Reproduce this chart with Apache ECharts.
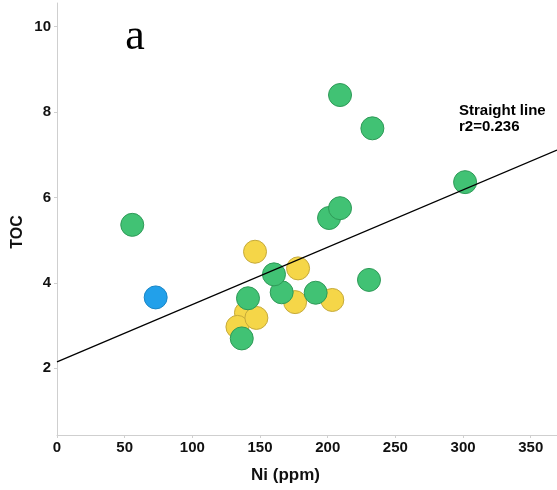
<!DOCTYPE html>
<html>
<head>
<meta charset="utf-8">
<script src="https://cdn.jsdelivr.net/npm/echarts@6/dist/echarts.min.js"></script>
<style>
html,body{margin:0;padding:0;background:#fff;}
#chart{width:557px;height:490px;}
</style>
</head>
<body>
<div id="chart"></div>
<script>
// Data
var niYellow = [139.6, 133.3, 146.3, 147.3, 175.9, 178.1, 203.4];
var tocYellow = [3.30, 2.97, 4.73, 3.18, 3.55, 4.34, 3.60];

var niGreen = [55.6, 136.5, 141.1, 166.0, 160.3, 191.1, 201.0, 209.1, 209.1, 230.5, 233.0, 301.5];
var tocGreen = [5.36, 2.70, 3.64, 3.78, 4.20, 3.77, 5.52, 5.75, 8.40, 4.07, 7.62, 6.36];

var niBlue = [72.9];
var tocBlue = [3.66];

// Straight-line fit (r2 = 0.236), end points
var fitNi = [0, 369.4];
var fitToc = [2.15, 7.11];

var xTicks = [0, 50, 100, 150, 200, 250, 300, 350];
var yTicks = [2, 4, 6, 8, 10];

function pairs(xs, ys) { return xs.map(function (x, i) { return [x, ys[i]]; }); }

var chart = echarts.init(document.getElementById('chart'), null, {renderer: 'canvas'});
var labelFont = {fontFamily: 'Liberation Sans', fontWeight: 'bold', fontSize: 15, color: '#111'};
var axisGray = '#cfcfcf';

chart.setOption({
  animation: false,
  backgroundColor: '#fff',
  grid: {left: 57, right: 0, top: 3, bottom: 55, outerBoundsMode: 'none', containLabel: false},
  xAxis: {
    type: 'value', min: 0, max: 369.4,
    axisLine: {show: true, lineStyle: {color: axisGray, width: 1}},
    axisTick: {show: true, length: 3, customValues: xTicks, lineStyle: {color: axisGray}},
    axisLabel: Object.assign({customValues: xTicks, margin: 5}, labelFont),
    splitLine: {show: false}
  },
  yAxis: {
    type: 'value', min: 0.438, max: 10.555,
    axisLine: {show: true, lineStyle: {color: axisGray, width: 1}},
    axisTick: {show: true, length: 3, customValues: yTicks, lineStyle: {color: axisGray}},
    axisLabel: Object.assign({customValues: yTicks, margin: 6}, labelFont),
    splitLine: {show: false}
  },
  graphic: [
    {type: 'text', x: 135, y: 37.5, style: {text: 'a', font: '44px "Liberation Serif"', fill: '#000', align: 'center', verticalAlign: 'middle'}},
    {type: 'text', x: 459, y: 118.7, style: {text: 'Straight line\nr2=0.236', font: 'bold 15px "Liberation Sans"', lineHeight: 16, fill: '#000', align: 'left', verticalAlign: 'middle'}},
    {type: 'text', x: 285.5, y: 475, style: {text: 'Ni (ppm)', font: 'bold 17px "Liberation Sans"', fill: '#111', align: 'center', verticalAlign: 'middle'}},
    {type: 'text', x: 17.5, y: 232, rotation: Math.PI / 2, style: {text: 'TOC', font: 'bold 16px "Liberation Sans"', fill: '#111', align: 'center', verticalAlign: 'middle'}}
  ],
  series: [
    {
      type: 'scatter', name: 'yellow', data: pairs(niYellow, tocYellow), symbolSize: 23, z: 2,
      itemStyle: {color: '#f5d648', borderColor: '#c6aa3a', borderWidth: 1, opacity: 1}
    },
    {
      type: 'scatter', name: 'green', data: pairs(niGreen, tocGreen), symbolSize: 23, z: 3,
      itemStyle: {color: '#41c274', borderColor: '#2f9a58', borderWidth: 1, opacity: 1}
    },
    {
      type: 'scatter', name: 'blue', data: pairs(niBlue, tocBlue), symbolSize: 23, z: 3,
      itemStyle: {color: '#22a0ea', borderColor: '#1a86c6', borderWidth: 1, opacity: 1}
    },
    {
      type: 'line', name: 'fit', data: pairs(fitNi, fitToc), symbol: 'none', z: 5,
      lineStyle: {color: '#000', width: 1.3}, clip: true
    }
  ]
});
</script>
</body>
</html>
